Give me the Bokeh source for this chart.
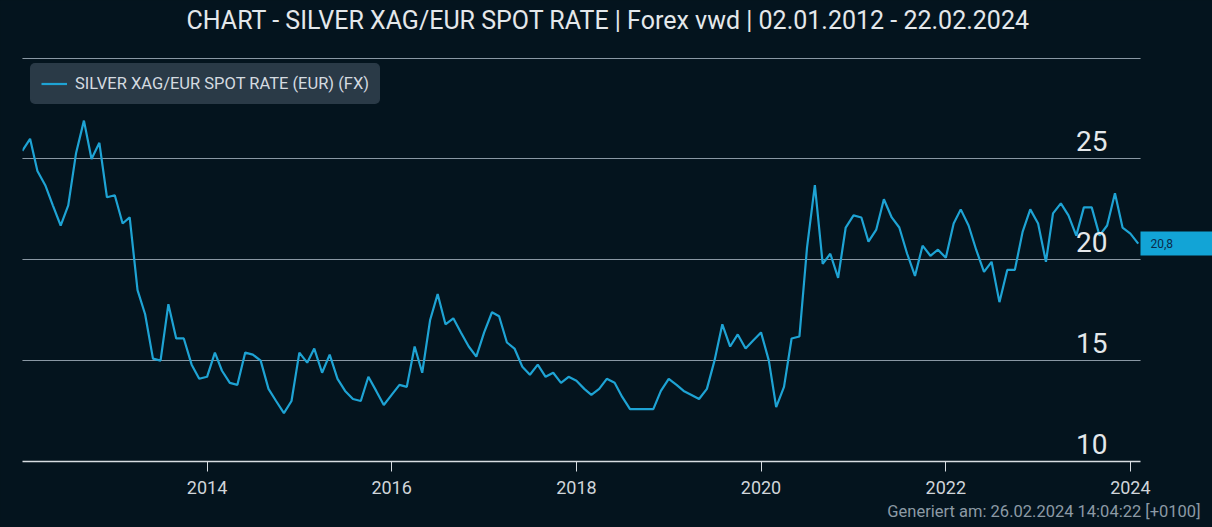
import pandas as pd
from bokeh.plotting import figure
from bokeh.models import (Range1d, FixedTicker, DatetimeTickFormatter, Grid, Title,
                          Legend, LegendItem, ColumnDataSource, LinearAxis)
from bokeh.core.properties import value
from bokeh.embed import file_html
from bokeh.resources import INLINE

# ---------------- data ----------------
title_text = "CHART - SILVER XAG/EUR SPOT RATE | Forex vwd | 02.01.2012 - 22.02.2024"
series_name = "SILVER XAG/EUR SPOT RATE (EUR) (FX)"
footer_text = "Generiert am: 26.02.2024 14:04:22 [+0100]"
first_month = "2012-01-01"
range_start = "2012-01-02"
range_end = "2024-02-10"

y2012 = [25.4, 26.0, 24.4, 23.7, 22.7, 21.7, 22.7, 25.3, 26.9, 25.0, 25.8, 23.1]
y2013 = [23.2, 21.8, 22.1, 18.5, 17.3, 15.1, 15.0, 17.8, 16.1, 16.1, 14.8, 14.1]
y2014 = [14.2, 15.4, 14.5, 13.9, 13.8, 15.4, 15.3, 15.0, 13.6, 13.0, 12.4, 13.0]
y2015 = [15.4, 14.9, 15.6, 14.4, 15.3, 14.1, 13.5, 13.1, 13.0, 14.2, 13.5, 12.8]
y2016 = [13.3, 13.8, 13.7, 15.7, 14.4, 17.0, 18.3, 16.8, 17.1, 16.4, 15.7, 15.2]
y2017 = [16.4, 17.4, 17.2, 15.9, 15.6, 14.7, 14.3, 14.8, 14.2, 14.4, 13.9, 14.2]
y2018 = [14.0, 13.6, 13.3, 13.6, 14.1, 13.9, 13.2, 12.6, 12.6, 12.6, 12.6, 13.5]
y2019 = [14.1, 13.8, 13.5, 13.3, 13.1, 13.6, 15.0, 16.8, 15.7, 16.3, 15.6, 16.0]
y2020 = [16.4, 15.0, 12.7, 13.7, 16.1, 16.2, 20.6, 23.7, 19.8, 20.3, 19.1, 21.6]
y2021 = [22.2, 22.1, 20.9, 21.5, 23.0, 22.1, 21.6, 20.3, 19.2, 20.7, 20.2, 20.5]
y2022 = [20.1, 21.8, 22.5, 21.7, 20.5, 19.4, 19.9, 17.9, 19.5, 19.5, 21.4, 22.5]
y2023 = [21.8, 19.9, 22.3, 22.8, 22.2, 21.2, 22.6, 22.6, 21.2, 21.7, 23.3, 21.6]
y2024 = [21.3, 20.8]

y_ticks = [10, 15, 20, 25, 30]
y_tick_labels = ["10", "15", "20", "25"]
x_tick_years = [2014, 2016, 2018, 2020, 2022, 2024]
last_value_label = "20,8"

# ---------------- build ----------------
prices = (y2012 + y2013 + y2014 + y2015 + y2016 + y2017 + y2018 + y2019 +
          y2020 + y2021 + y2022 + y2023 + y2024)
dates = pd.date_range(first_month, periods=len(prices), freq="MS")
src = ColumnDataSource(dict(date=dates, price=prices))

BG = "#04141e"
LINE = "#1ea3d4"
TAG = "#12a4d6"
GRID = "#8a98a4"
TXT = "#e4e8eb"
LEG_BG = "#2a3a47"

x0 = pd.Timestamp(range_start)
x1 = pd.Timestamp(range_end)

p = figure(width=1212, height=527, x_axis_type="datetime", y_axis_location=None,
           x_range=Range1d(x0, x1), y_range=Range1d(min(y_ticks), max(y_ticks) + 0.03),
           output_backend="svg", toolbar_location=None,
           background_fill_color=BG, border_fill_color=BG,
           min_border_left=22, min_border_right=72, min_border_top=57, min_border_bottom=66)
p.outline_line_color = None
p.xgrid.visible = False
p.add_layout(Grid(dimension=1, ticker=FixedTicker(ticks=y_ticks),
                  grid_line_color=GRID, grid_line_width=1))

ax = p.xaxis[0]
ax.ticker = FixedTicker(ticks=[pd.Timestamp(f"{y}-01-01").value / 1e6 for y in x_tick_years])
ax.formatter = DatetimeTickFormatter(years="%Y", months="%Y", days="%Y", hours="%Y",
                                     minutes="%Y", seconds="%Y", milliseconds="%Y",
                                     microseconds="%Y", minsec="%Y", hourmin="%Y")
ax.axis_line_color = "#d8dde2"
ax.axis_line_width = 1.5
ax.major_tick_line_color = "#d8dde2"
ax.major_tick_in = 0
ax.major_tick_out = 10
ax.minor_tick_line_color = None
ax.major_label_text_color = "#d0d5da"
ax.major_label_text_font = "Roboto"
ax.major_label_text_font_size = "18px"
ax.major_label_standoff = 9

r = p.line("date", "price", source=src, line_color=LINE, line_width=2.2)

# y labels inside the frame, right side
p.text(x=[x1] * len(y_tick_labels), y=y_ticks[:len(y_tick_labels)], text=y_tick_labels,
       x_offset=-33, y_offset=-18, text_align="right", text_baseline="alphabetic",
       text_color=TXT, text_font=value("Roboto"), text_font_size="28px")

legend = Legend(items=[LegendItem(label=series_name, renderers=[r])],
                location=(8, 357), background_fill_color=LEG_BG, background_fill_alpha=1,
                border_line_color=LEG_BG, border_line_width=1, label_text_color="#d5dbe0",
                label_text_font="Roboto", label_text_font_size="16.5px",
                glyph_width=26, glyph_height=19, label_height=19, label_standoff=8,
                padding=10, margin=0, spacing=0, border_radius=5)
p.add_layout(legend)

# last value tag on the right side
tag_axis = LinearAxis(ticker=FixedTicker(ticks=[prices[-1]]),
                      major_label_overrides={prices[-1]: last_value_label})
tag_axis.axis_line_color = None
tag_axis.minor_tick_line_color = None
tag_axis.major_tick_in = 0
tag_axis.major_tick_out = 72
tag_axis.major_tick_line_color = TAG
tag_axis.major_tick_line_width = 24
tag_axis.major_tick_line_cap = "butt"
tag_axis.major_label_standoff = -62
tag_axis.major_label_text_color = "#0b2a4a"
tag_axis.major_label_text_font = "Roboto"
tag_axis.major_label_text_font_size = "12px"
p.add_layout(tag_axis, "right")

# spacer between frame and title, then the title itself
p.add_layout(Title(text=" ", text_font_size="1px", standoff=20), "above")
p.add_layout(Title(text=title_text, align="left", text_color=TXT,
                   text_font="Roboto", text_font_size="25px", text_font_style="normal",
                   standoff=0, offset=164), "above")
p.add_layout(Title(text=footer_text, align="right", text_color="#8c9aa5", text_font="Roboto",
                   text_font_size="16.5px", text_font_style="normal", standoff=6, offset=-60),
             "below")

html = file_html(p, INLINE)
html = html.replace("<head>", "<head><style>html,body{background:%s;}</style>" % BG, 1)
open("out.html", "w").write(html)
